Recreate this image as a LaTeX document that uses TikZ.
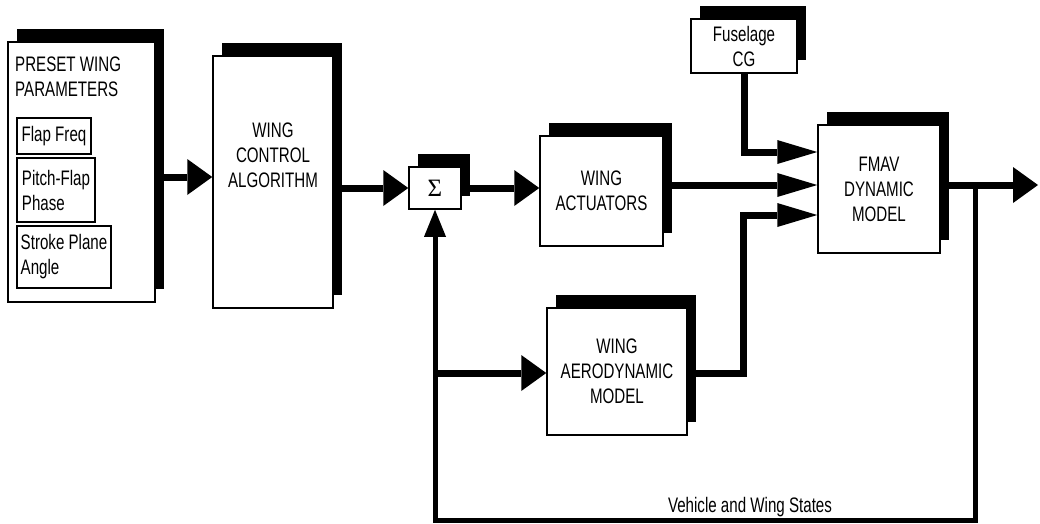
\documentclass[tikz,border=0pt]{standalone}
\usepackage{fontspec}
\usepackage{tikz}
\usetikzlibrary{arrows.meta, shadows}
\newfontfamily\diagfont[FakeStretch=0.72]{Liberation Sans}
\newfontfamily\sigmafont{Liberation Serif}

\begin{document}
\begin{tikzpicture}[
    x=1pt, y=-1pt,
    block/.style={draw, line width=1.5pt, fill=white, inner sep=0pt, align=center,
                  font=\diagfont\fontsize{21}{25}\selectfont,
                  drop shadow={shadow xshift=9pt, shadow yshift=13pt, fill=black, opacity=1}},
    subblock/.style={draw, line width=1.2pt, fill=white, inner sep=0pt,
                  align=left, font=\diagfont\fontsize{21}{25}\selectfont},
    txt/.style={inner sep=3pt, font=\diagfont\fontsize{21}{25}\selectfont},
    bus/.style={line width=7pt, -{Triangle[length=25pt, width=36pt, line width=0pt]}},
    slimbus/.style={line width=7pt, -{Triangle[length=40pt, width=24pt, line width=0pt]}},
    fb/.style={line width=5pt}
]
    \useasboundingbox (0,0) rectangle (1040,523);

    % preset parameters
    \node[block, minimum width=147pt, minimum height=260pt] (preset) at (81.5,172) {};
    \node[txt, anchor=north west, align=left] (presettitle) at (12,54) {PRESET WING\\PARAMETERS};
    \node[subblock, minimum width=74pt, minimum height=36pt] (flapfreq) at (54,136) {Flap Freq};
    \node[subblock, minimum width=78pt, minimum height=64pt] (pitchflap) at (56,190) {Pitch-Flap\\Phase};
    \node[subblock, minimum width=94pt, minimum height=62pt] (strokeplane) at (64,257) {Stroke Plane\\Angle};

    % controller and summing junction
    \node[block, minimum width=120pt, minimum height=252pt] (wca) at (273,182) {};
    \node[txt, align=center] (wcatext) at (273,155) {WING\\CONTROL\\ALGORITHM};
    \node[block, minimum width=52pt, minimum height=42pt, font=\sigmafont\fontsize{25}{25}\selectfont] (sum) at (435,188) {Σ};

    % plant
    \node[block, minimum width=123pt, minimum height=110pt] (act) at (601.5,191) {WING\\ACTUATORS};
    \node[block, minimum width=106pt, minimum height=54pt] (cg) at (744,46) {Fuselage\\CG};
    \node[block, minimum width=122pt, minimum height=128pt] (fmav) at (879,189) {FMAV\\DYNAMIC\\MODEL};
    \node[block, minimum width=140pt, minimum height=127pt] (aero) at (617,371.5) {WING\\AERODYNAMIC\\MODEL};
    \node[txt] (states) at (750,507) {Vehicle and Wing States};

    \coordinate (tap) at (975,185);
    \coordinate (out) at (1038,185);
    \coordinate (aeroturn) at (743,373);
    \coordinate (fbright) at (975,520);
    \coordinate (fbleft) at (435,520);
    \coordinate (branch) at (435,373);

    % signal flow
    \draw[bus] ([yshift=-5pt]preset.east) -- ([yshift=5pt]wca.west);
    \draw[bus] (wca.east |- sum.west) -- (sum.west);
    \draw[bus] (sum.east) -- (sum.east -| act.west);
    \draw[slimbus] (act.east |- tap) -- (fmav.west |- tap);
    \draw[slimbus] (cg.south) |- ([yshift=37pt]fmav.west);
    \draw[slimbus] (aero.east |- aeroturn) -- (aeroturn) |- ([yshift=-26pt]fmav.west);
    \draw[bus] (fmav.east |- tap) -- (out);

    % feedback
    \draw[fb] (tap) -- (fbright) -- (fbleft) -- (branch);
    \draw[fb, -{Triangle[length=27pt, width=22pt, line width=0pt]}] (branch) -- (sum.south);
    \draw[bus] (branch) -- (branch -| aero.west);
\end{tikzpicture}
\end{document}
